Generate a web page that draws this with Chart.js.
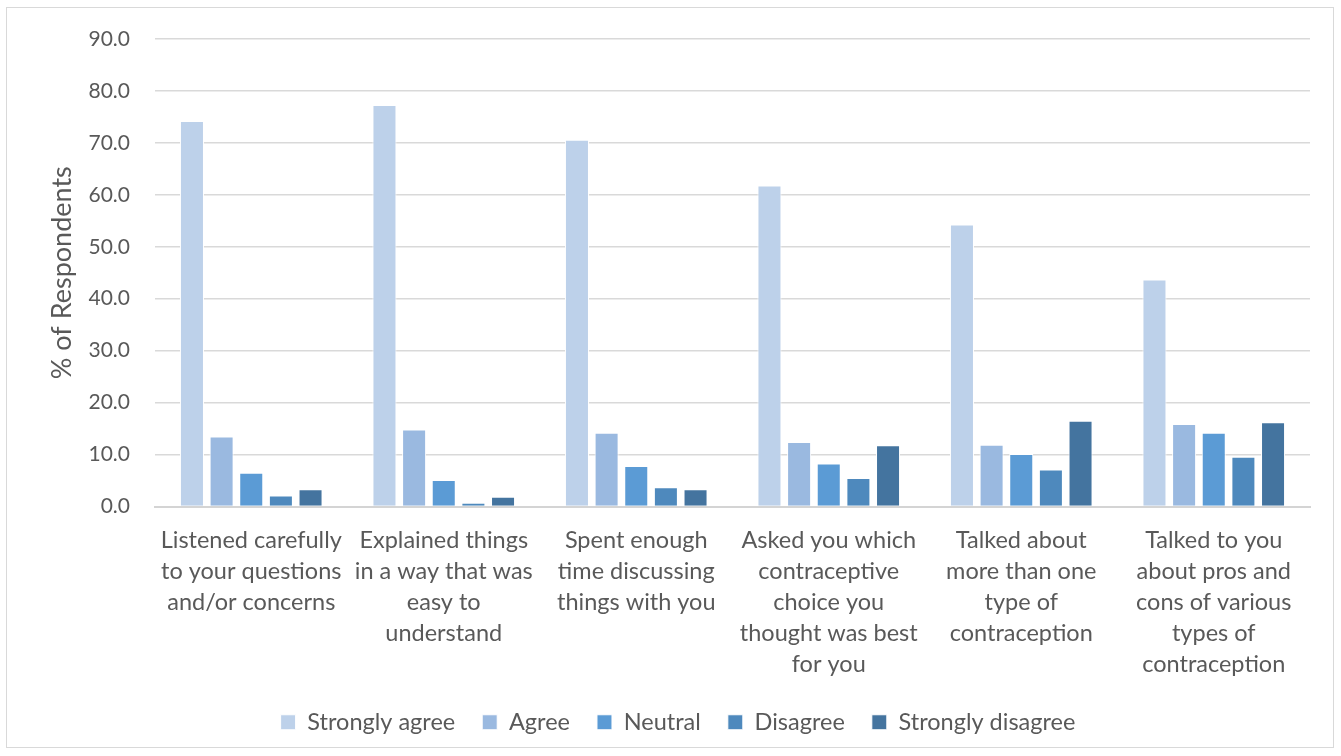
<!DOCTYPE html>
<html>
<head>
<meta charset="utf-8">
<script src="https://cdn.jsdelivr.net/npm/chart.js@4.4.0/dist/chart.umd.min.js"></script>
<style>
  html, body { margin: 0; padding: 0; background: #ffffff; }
  #frame { position: absolute; left: 6px; top: 7px; width: 1328px; height: 741px; border: 1px solid #d9d9d9; box-sizing: border-box; }
  #wrap { position: absolute; left: 0; top: 0; width: 1341px; height: 756px; }
</style>
</head>
<body>
<div id="frame"></div>
<div id="wrap"><canvas id="c" width="1341" height="756"></canvas></div>
<script>
// Survey items shown on the category axis (one array of lines per item)
const categories = [
  ["Listened carefully", "to your questions", "and/or concerns"],
  ["Explained things", "in a way that was", "easy to", "understand"],
  ["Spent enough", "time discussing", "things with you"],
  ["Asked you which", "contraceptive", "choice you", "thought was best", "for you"],
  ["Talked about", "more than one", "type of", "contraception"],
  ["Talked to you", "about pros and", "cons of various", "types of", "contraception"]
];

// Percentage of respondents per response level
const stronglyAgree    = [74.2, 77.3, 70.6, 61.8, 54.3, 43.7];
const agree            = [13.5, 14.8, 14.2, 12.4, 11.9, 15.9];
const neutral          = [6.5, 5.1, 7.8, 8.3, 10.1, 14.2];
const disagree         = [2.1, 0.7, 3.7, 5.5, 7.1, 9.6];
const stronglyDisagree = [3.3, 1.9, 3.3, 11.8, 16.5, 16.2];

const seriesNames = ["Strongly agree", "Agree", "Neutral", "Disagree", "Strongly disagree"];
const seriesColors = ["#bdd1ea", "#9ab9e0", "#5b9bd5", "#4e89bd", "#44749f"];
const seriesValues = [stronglyAgree, agree, neutral, disagree, stronglyDisagree];

const yTicks = [0, 10, 20, 30, 40, 50, 60, 70, 80, 90];

const FONT = "Lato, 'Open Sans', sans-serif";
const TEXT = "#595959";

const datasets = seriesNames.map((name, i) => ({
  label: name,
  data: seriesValues[i],
  backgroundColor: seriesColors[i],
  borderColor: "#ffffff",
  borderWidth: 1,
  borderSkipped: "bottom",
  categoryPercentage: 0.77,
  barPercentage: 0.81
}));

new Chart(document.getElementById("c"), {
  type: "bar",
  data: { labels: categories, datasets },
  options: {
    responsive: false,
    animation: false,
    devicePixelRatio: 1,
    layout: { padding: { top: 39, right: 31, left: 46, bottom: 12 } },
    plugins: {
      tooltip: { enabled: false },
      legend: {
        position: "bottom",
        labels: {
          font: { family: FONT, size: 23.5 },
          color: TEXT,
          boxWidth: 15,
          boxHeight: 15,
          padding: 27
        }
      }
    },
    scales: {
      x: {
        grid: { display: false, drawTicks: false },
        border: { display: true, color: "#d4d4d4", width: 2 },
        ticks: {
          font: { family: FONT, size: 23.5, lineHeight: 1.32 },
          color: TEXT,
          maxRotation: 0,
          autoSkip: false,
          padding: 18
        },
        afterFit: (s) => { s.height = 177; }
      },
      y: {
        min: 0,
        max: 90,
        afterBuildTicks: (s) => { s.ticks = yTicks.map(v => ({ value: v })); },
        grid: { color: "#d9d9d9", lineWidth: 1.5, drawTicks: false },
        border: { display: false },
        ticks: {
          font: { family: FONT, size: 21 },
          color: TEXT,
          padding: 25,
          callback: (v) => Number(v).toFixed(1)
        },
        title: {
          display: true,
          text: "% of Respondents",
          font: { family: FONT, size: 27 },
          color: TEXT,
          padding: { top: 0, bottom: 0 }
        },
        afterFit: (s) => { s.width = 109; }
      }
    }
  }
});
</script>
</body>
</html>
